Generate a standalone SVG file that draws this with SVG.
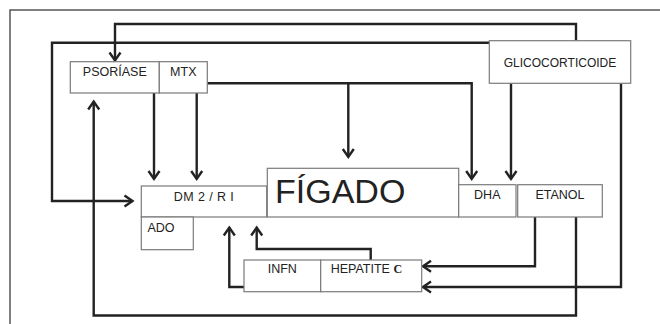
<svg xmlns="http://www.w3.org/2000/svg" width="660" height="324" viewBox="0 0 660 324">
<defs>
<style>
.box{fill:#fff;stroke:#7a7a7a;stroke-width:1.2}
.t{font-family:"Liberation Sans",Arial,sans-serif;font-size:12.5px;fill:#222;text-anchor:middle}
.c{fill:none;stroke:#222;stroke-width:2.4;stroke-linejoin:miter}
.frame{fill:none;stroke:#555;stroke-width:1.5}
</style>
<marker id="ah" markerUnits="userSpaceOnUse" markerWidth="14" markerHeight="14" viewBox="0 0 14 14" refX="11" refY="7" orient="auto">
<path d="M3,1.5 L11,7 L3,12.5" fill="none" stroke="#222" stroke-width="2.4"/>
</marker>
</defs>
<rect width="660" height="324" fill="#fff"/>
<path class="frame" d="M10,324 V10 H660"/>
<g id="connectors">
<path class="c" d="M576,40.7 V24 H115 V60.5" marker-end="url(#ah)"/>
<path class="c" d="M489,42.7 H52 V201 H132.5" marker-end="url(#ah)"/>
<path class="c" d="M154,93 V179" marker-end="url(#ah)"/>
<path class="c" d="M196.7,93 V179" marker-end="url(#ah)"/>
<path class="c" d="M207.3,83.3 H471.7 V179" marker-end="url(#ah)"/>
<path class="c" d="M348.3,83.3 V157" marker-end="url(#ah)"/>
<path class="c" d="M511,83.3 V179" marker-end="url(#ah)"/>
<path class="c" d="M621,83.3 V287 H423" marker-end="url(#ah)"/>
<path class="c" d="M535,217 V266.3 H423" marker-end="url(#ah)"/>
<path class="c" d="M576,217 V315.5 H93.7 V101.5" marker-end="url(#ah)"/>
<path class="c" d="M244,287 H229.3 V227.5" marker-end="url(#ah)"/>
<path class="c" d="M370.7,260 V249 H256.7 V227.5" marker-end="url(#ah)"/>
</g>
<g id="psoriase"><rect class="box" x="70.3" y="61.7" width="89" height="31.3"/><text class="t" x="114.8" y="76">PSORÍASE</text></g>
<g id="mtx"><rect class="box" x="159.3" y="61.7" width="48" height="31.3"/><text class="t" x="183.3" y="76">MTX</text></g>
<g id="glicocorticoide"><rect class="box" x="489.3" y="40.7" width="141.4" height="42.6"/><text class="t" x="560" y="66.5" style="font-size:12px">GLICOCORTICOIDE</text></g>
<g id="dm2"><rect class="box" x="141.3" y="186" width="125.4" height="31"/><text class="t" x="204" y="200.7" style="letter-spacing:0.4px">DM 2 / R I</text></g>
<g id="ado"><rect class="box" x="141.3" y="217" width="52" height="32.7"/><text class="t" x="147.5" y="231.7" style="text-anchor:start">ADO</text></g>
<g id="figado"><rect class="box" x="267.3" y="168.3" width="191.4" height="48.7"/><text class="t" x="275" y="203" style="text-anchor:start;font-size:34px">FÍGADO</text></g>
<g id="dha"><rect class="box" x="458.7" y="184.7" width="57.3" height="32.3"/><text class="t" x="487.3" y="199.3">DHA</text></g>
<g id="etanol"><rect class="box" x="517.7" y="184.7" width="84.6" height="32.3"/><text class="t" x="560" y="199.3">ETANOL</text></g>
<g id="infn"><rect class="box" x="244" y="260" width="76.7" height="31.7"/><text class="t" x="282.3" y="273.3">INFN</text></g>
<g id="hepatite"><rect class="box" x="320.7" y="260" width="101" height="31.7"/><text class="t" x="330.7" y="273.3" style="text-anchor:start">HEPATITE <tspan style="font-family:'Liberation Serif','Times New Roman',serif;font-weight:bold;font-size:12px">C</tspan></text></g>
</svg>
